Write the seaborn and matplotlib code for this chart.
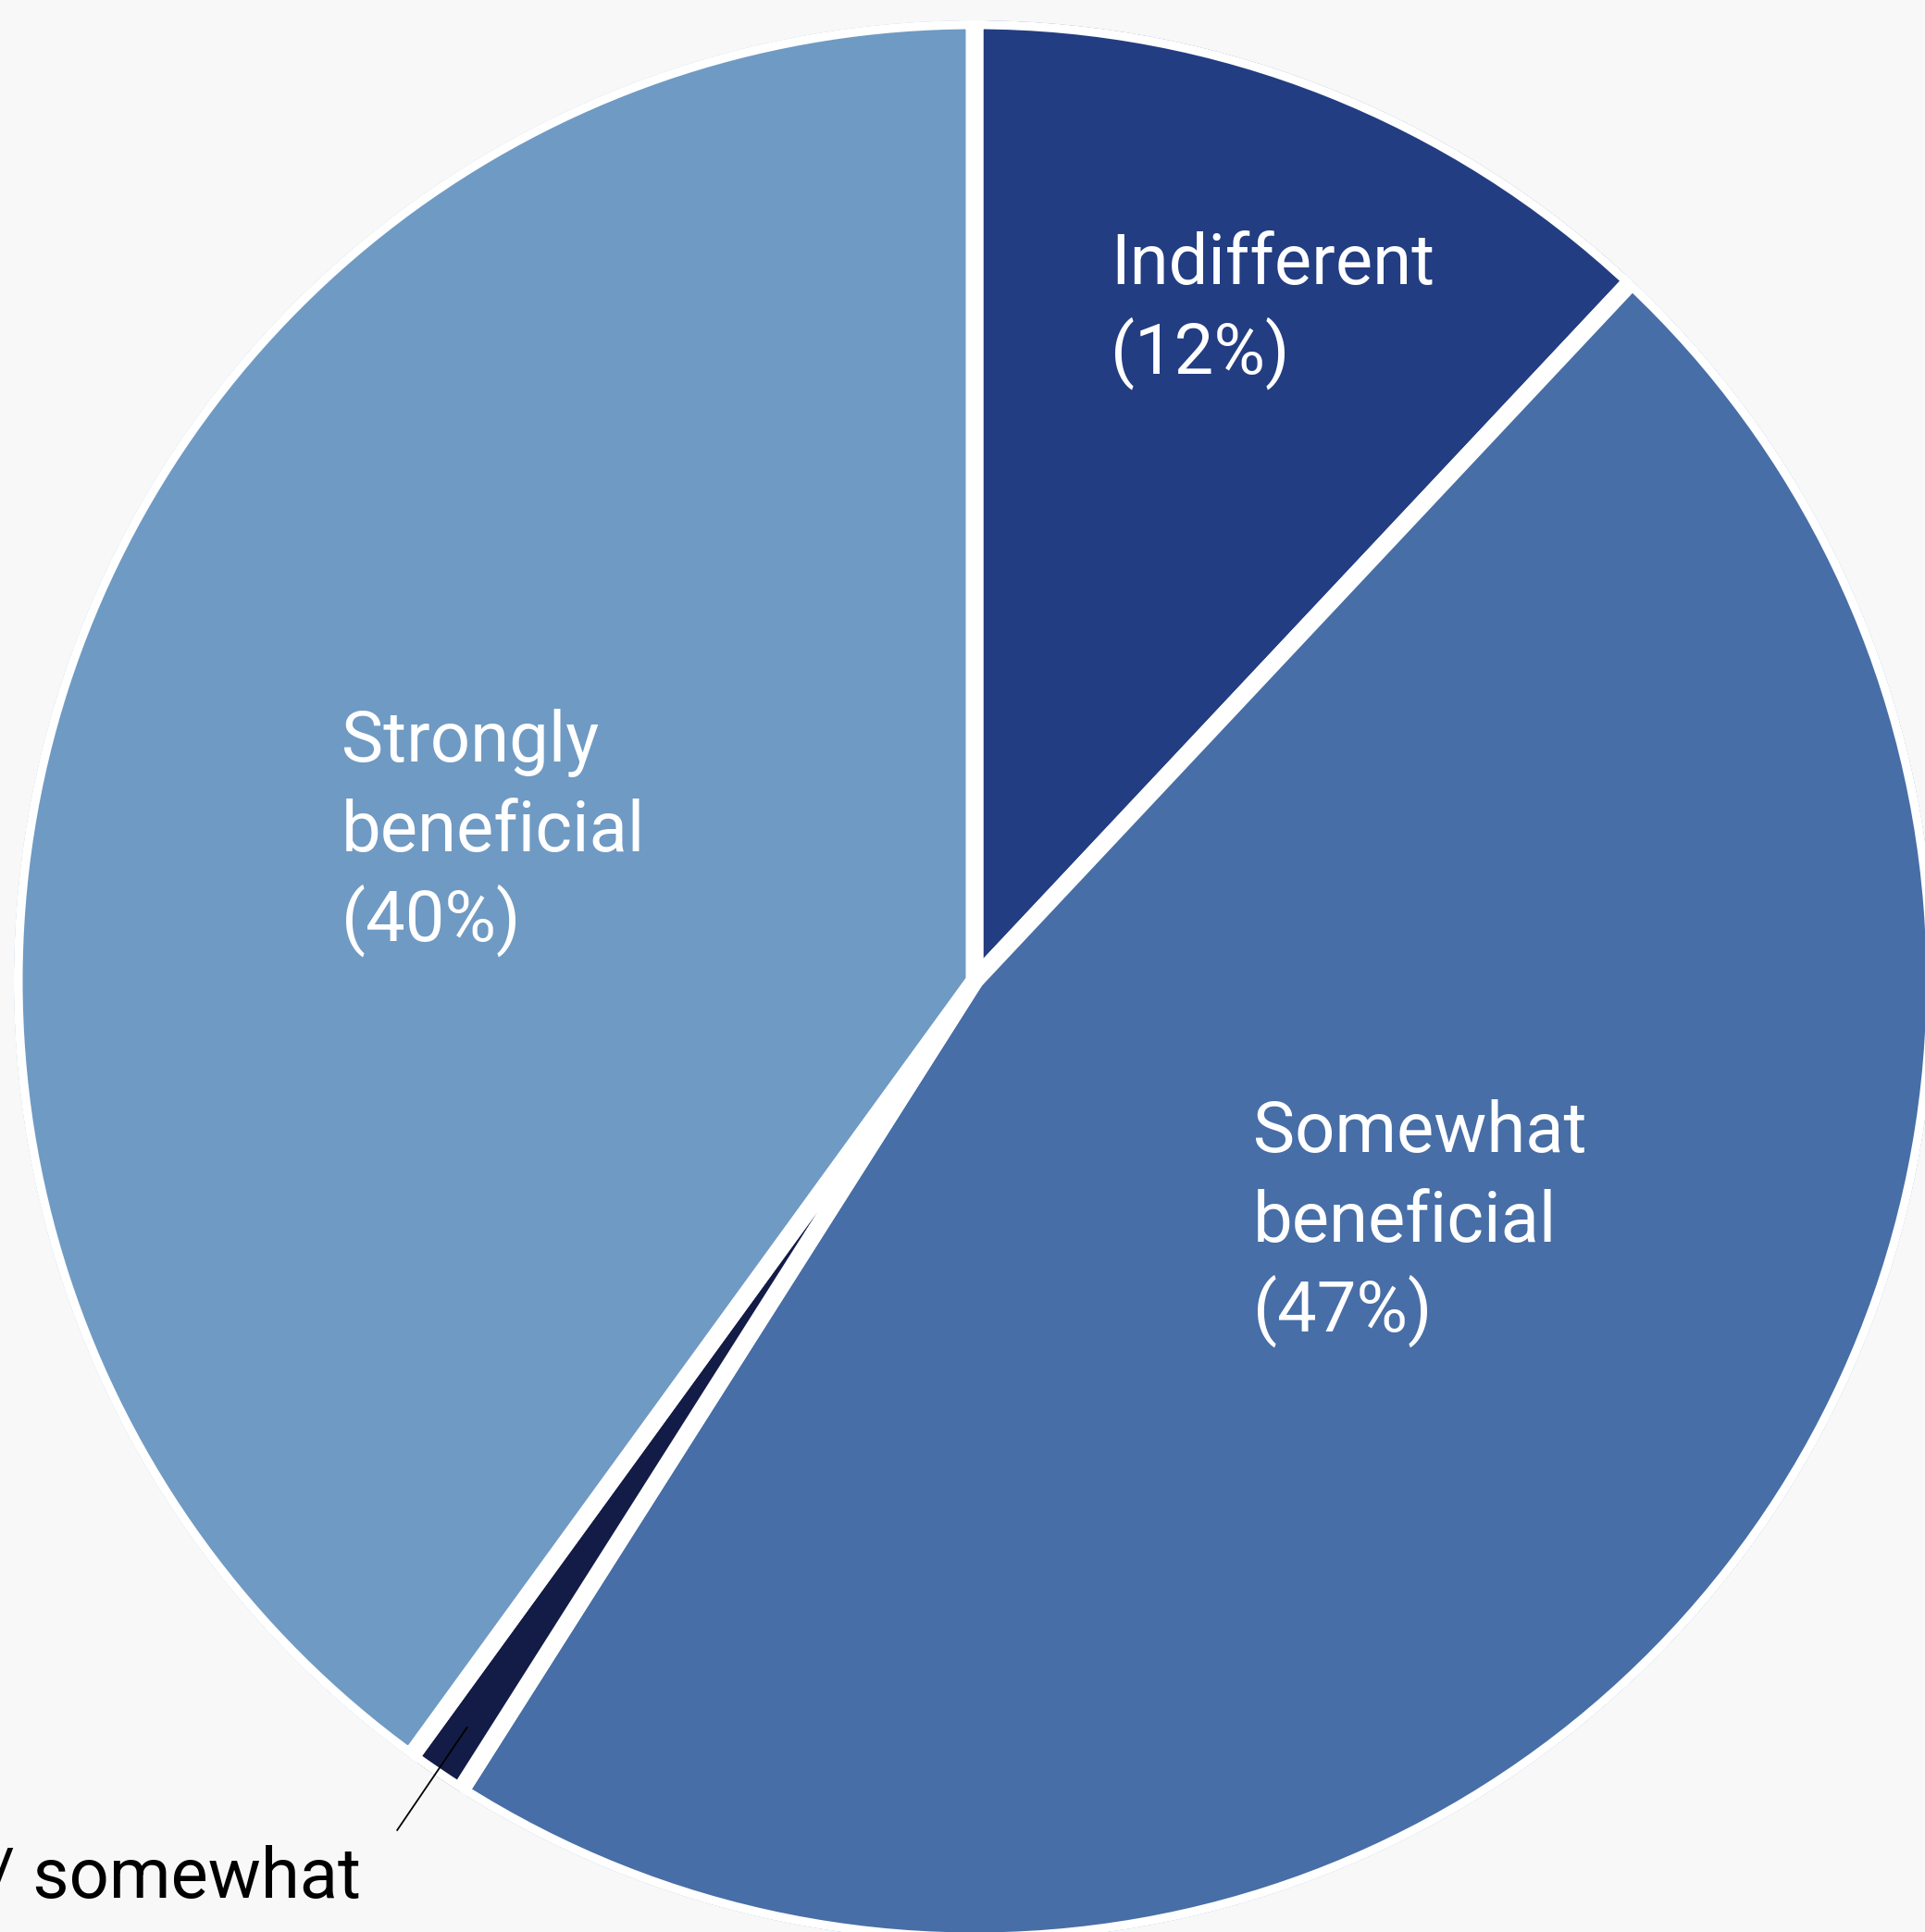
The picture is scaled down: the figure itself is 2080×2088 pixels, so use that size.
import numpy as np
import pandas as pd
import seaborn as sns
import matplotlib
matplotlib.use("Agg")
import matplotlib.pyplot as plt
from matplotlib.patches import Circle

# ---- data ----
categories = ["Indifferent", "Somewhat beneficial",
              "Strongly / somewhat detrimental", "Strongly beneficial"]
shares = [12, 47, 1, 40]
label_lines = [["Indifferent", "(12%)"],
               ["Somewhat", "beneficial", "(47%)"],
               ["Strongly / somewhat"],
               ["Strongly", "beneficial", "(40%)"]]
colors = ["#233d82", "#476ea6", "#131c46", "#6f9ac3"]
BG = "#f8f8f8"

df = pd.DataFrame({"category": categories, "share": shares})

sns.set_theme(style="white")
plt.rcParams['font.family'] = ['Roboto', 'DejaVu Sans']

W, H, dpi = 2080, 2088, 200
fig = plt.figure(figsize=(W / dpi, H / dpi), dpi=dpi, facecolor=BG)
ax = fig.add_axes([0, 0, 1, 1])
ax.set_facecolor(BG)

cx, cy, R = 1053, 1060, 1038  # pixel centre and radius (layout)

wedges, _ = ax.pie(df["share"], colors=colors, startangle=90, counterclock=False,
                   radius=1,
                   wedgeprops=dict(edgecolor="white", linewidth=19 * 72 / dpi))
clip = Circle((0, 0), 1, transform=ax.transData)
for w in wedges:
    w.set_clip_on(True)
    w.set_clip_path(clip)

ax.set_xlim(-cx / R, (W - cx) / R)
ax.set_ylim(-(H - cy) / R, cy / R)
ax.set_aspect("auto")
ax.axis("off")


def px(x, y):
    return (x - cx) / R, (cy - y) / R


line_gap = 97

# label anchors (x, first baseline y, align, colour, font px) in pixels
anchors = {0: (1200, 307, "left", "white", 76),
           1: (1354, 1245, "left", "white", 76),
           3: (369, 823, "left", "white", 76),
           2: (390, 2051, "right", "black", 76)}
for i, lines in enumerate(label_lines):
    x0, y0, ha, col, fpx = anchors[i]
    for k, line in enumerate(lines):
        xx, yy = px(x0, y0 + k * line_gap)
        ax.text(xx, yy, line, ha=ha, va="baseline", color=col,
                fontsize=fpx * 72 / dpi, fontweight="normal")

# leader line for the tiny slice
w = wedges[2]
mid = np.deg2rad((w.theta1 + w.theta2) / 2)
r0, r1 = 0.939, 1.070
ax.plot([r0 * np.cos(mid), r1 * np.cos(mid)], [r0 * np.sin(mid), r1 * np.sin(mid)],
        color="black", lw=1.8 * 72 / dpi, solid_capstyle="butt")

fig.savefig("out.png", dpi=dpi, facecolor=BG)
